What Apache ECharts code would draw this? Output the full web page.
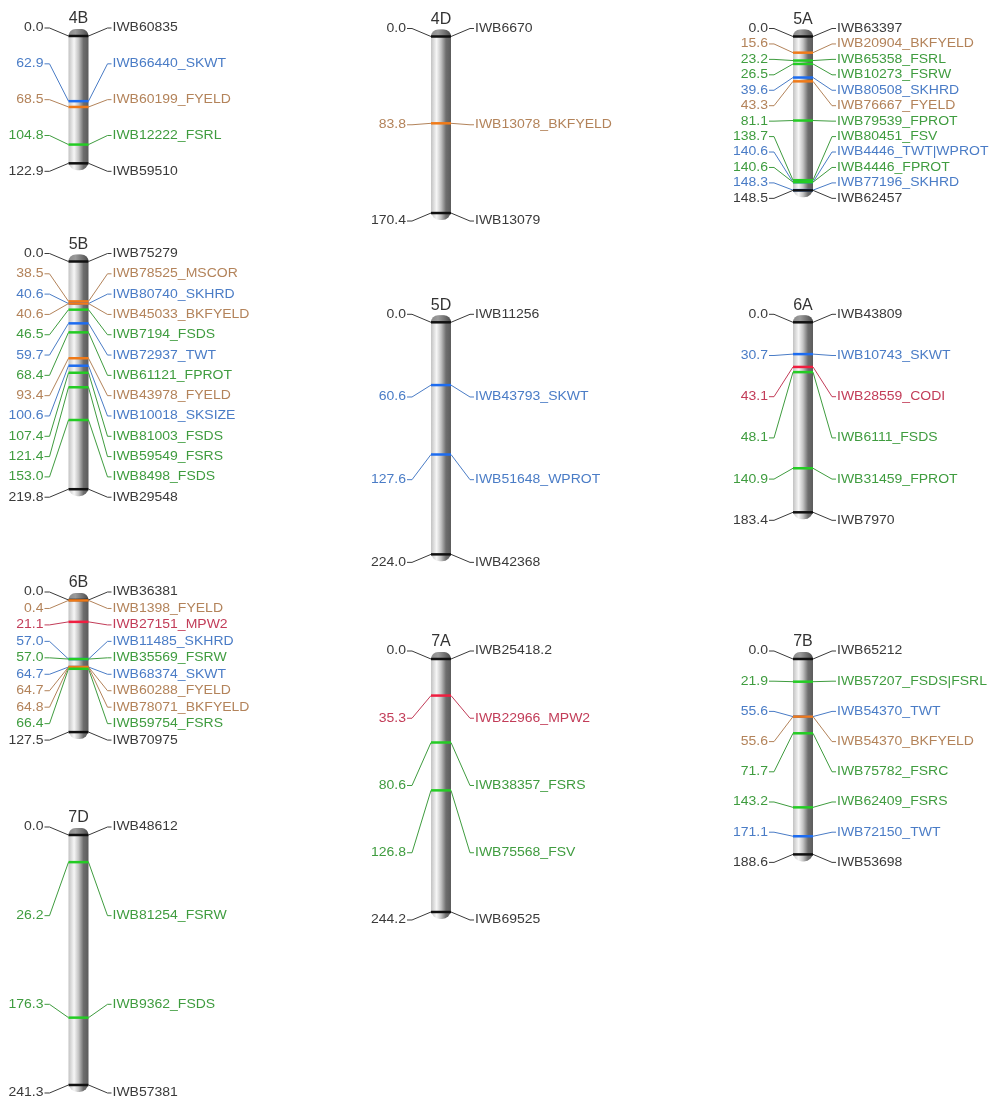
<!DOCTYPE html>
<html>
<head>
<meta charset="utf-8">
<title>Linkage map</title>
<script src="https://cdn.jsdelivr.net/npm/echarts@6/dist/echarts.min.js"></script>
<style>
html, body { margin: 0; padding: 0; background: #fff; }
#chart { width: 992px; height: 1101px; }
</style>
</head>
<body>
<div id="chart"></div>
<script>
// marker position (cM) and marker name, one list per chromosome
var chr4B = [[0.0, 'IWB60835'], [62.9, 'IWB66440_SKWT'], [68.5, 'IWB60199_FYELD'], [104.8, 'IWB12222_FSRL'], [122.9, 'IWB59510']]
var chr4D = [[0.0, 'IWB6670'], [83.8, 'IWB13078_BKFYELD'], [170.4, 'IWB13079']]
var chr5A = [[0.0, 'IWB63397'], [15.6, 'IWB20904_BKFYELD'], [23.2, 'IWB65358_FSRL'], [26.5, 'IWB10273_FSRW'],
  [39.6, 'IWB80508_SKHRD'], [43.3, 'IWB76667_FYELD'], [81.1, 'IWB79539_FPROT'], [138.7, 'IWB80451_FSV'],
  [140.6, 'IWB4446_TWT|WPROT'], [140.6, 'IWB4446_FPROT'], [148.3, 'IWB77196_SKHRD'], [148.5, 'IWB62457']]
var chr5B = [[0.0, 'IWB75279'], [38.5, 'IWB78525_MSCOR'], [40.6, 'IWB80740_SKHRD'], [40.6, 'IWB45033_BKFYELD'],
  [46.5, 'IWB7194_FSDS'], [59.7, 'IWB72937_TWT'], [68.4, 'IWB61121_FPROT'], [93.4, 'IWB43978_FYELD'],
  [100.6, 'IWB10018_SKSIZE'], [107.4, 'IWB81003_FSDS'], [121.4, 'IWB59549_FSRS'], [153.0, 'IWB8498_FSDS'],
  [219.8, 'IWB29548']]
var chr5D = [[0.0, 'IWB11256'], [60.6, 'IWB43793_SKWT'], [127.6, 'IWB51648_WPROT'], [224.0, 'IWB42368']]
var chr6A = [[0.0, 'IWB43809'], [30.7, 'IWB10743_SKWT'], [43.1, 'IWB28559_CODI'], [48.1, 'IWB6111_FSDS'],
  [140.9, 'IWB31459_FPROT'], [183.4, 'IWB7970']]
var chr6B = [[0.0, 'IWB36381'], [0.4, 'IWB1398_FYELD'], [21.1, 'IWB27151_MPW2'], [57.0, 'IWB11485_SKHRD'],
  [57.0, 'IWB35569_FSRW'], [64.7, 'IWB68374_SKWT'], [64.7, 'IWB60288_FYELD'], [64.8, 'IWB78071_BKFYELD'],
  [66.4, 'IWB59754_FSRS'], [127.5, 'IWB70975']]
var chr7A = [[0.0, 'IWB25418.2'], [35.3, 'IWB22966_MPW2'], [80.6, 'IWB38357_FSRS'], [126.8, 'IWB75568_FSV'], [244.2, 'IWB69525']]
var chr7B = [[0.0, 'IWB65212'], [21.9, 'IWB57207_FSDS|FSRL'], [55.6, 'IWB54370_TWT'], [55.6, 'IWB54370_BKFYELD'],
  [71.7, 'IWB75782_FSRC'], [143.2, 'IWB62409_FSRS'], [171.1, 'IWB72150_TWT'], [188.6, 'IWB53698']]
var chr7D = [[0.0, 'IWB48612'], [26.2, 'IWB81254_FSRW'], [176.3, 'IWB9362_FSDS'], [241.3, 'IWB57381']]

var chromosomes = ['4B', '4D', '5A', '5B', '5D', '6A', '6B', '7A', '7B', '7D']
var markerLists = { '4B': chr4B, '4D': chr4D, '5A': chr5A, '5B': chr5B, '5D': chr5D, '6A': chr6A, '6B': chr6B, '7A': chr7A, '7B': chr7B, '7D': chr7D }

// trait groups -> colours
var traitGroups = {
  blue: ['SKWT', 'SKHRD', 'TWT', 'SKSIZE', 'WPROT'],
  brown: ['FYELD', 'BKFYELD', 'MSCOR'],
  green: ['FSRL', 'FSRW', 'FSDS', 'FSRS', 'FPROT', 'FSV', 'FSRC'],
  red: ['MPW2', 'CODI']
}
var textColor = { none: '#3a3a3a', blue: '#4a7cc6', brown: '#b3835a', green: '#3f9c3f', red: '#c23c58' }
var barColor = { none: '#111111', blue: '#1d6cf0', brown: '#f07a18', green: '#24cc24', red: '#f01e40' }

// page layout: centre x and top (0 cM) y of each chromosome
var layout = {
  '4B': { cx: 78.5, top: 36 },
  '5B': { cx: 78.5, top: 261.5 },
  '6B': { cx: 78.5, top: 600 },
  '7D': { cx: 78.5, top: 835 },
  '4D': { cx: 441, top: 36.5 },
  '5D': { cx: 441, top: 322.3 },
  '7A': { cx: 441, top: 659 },
  '5A': { cx: 803, top: 36.5 },
  '6A': { cx: 803, top: 322.3 },
  '7B': { cx: 803, top: 659 }
}
var PX_PER_CM = 1.036
var HALF_W = 10
var FONT = 'Liberation Sans'

function groupOf (name) {
  var k = name.indexOf('_')
  if (k < 0) return 'none'
  var trait = name.slice(k + 1).split('|')[0]
  for (var g in traitGroups) {
    if (traitGroups[g].indexOf(trait) >= 0) return g
  }
  return 'none'
}

var chart = echarts.init(document.getElementById('chart'))

var grids = []
var xAxes = []
var yAxes = []
var series = []

chromosomes.forEach(function (chr, i) {
  var list = markerLists[chr]
  var len = list[list.length - 1][0]
  var lay = layout[chr]
  grids.push({ left: lay.cx - HALF_W, top: lay.top, width: HALF_W * 2, height: len * PX_PER_CM })
  xAxes.push({ gridIndex: i, type: 'value', min: 0, max: 1, show: false })
  yAxes.push({ gridIndex: i, type: 'value', min: 0, max: len, inverse: true, show: false })

  // chromosome body + title
  series.push({
    type: 'custom',
    xAxisIndex: i,
    yAxisIndex: i,
    z: 1,
    silent: true,
    data: [[0, 0]],
    renderItem: function (params, api) {
      var p0 = api.coord([0, 0])
      var p1 = api.coord([1, len])
      var w = p1[0] - p0[0]
      return {
        type: 'group',
        children: [{
          type: 'rect',
          shape: { x: p0[0], y: p0[1] - 7, width: w, height: p1[1] - p0[1] + 14, r: 9 },
          style: {
            fill: new echarts.graphic.LinearGradient(0, 0, 1, 0, [
              { offset: 0, color: '#c2c2c2' },
              { offset: 0.28, color: '#f6f6f6' },
              { offset: 0.5, color: '#c4c4c4' },
              { offset: 0.75, color: '#6e6e6e' },
              { offset: 1, color: '#5c5c5c' }
            ])
          }
        }, {
          type: 'rect',
          shape: { x: p0[0], y: p0[1] - 7, width: w, height: 7, r: [9, 9, 0, 0] },
          style: {
            fill: new echarts.graphic.LinearGradient(0, 0, 1, 0, [
              { offset: 0, color: '#8a8a8a' },
              { offset: 0.35, color: '#9a9a9a' },
              { offset: 1, color: '#4a4a4a' }
            ])
          }
        }, {
          type: 'text',
          x: (p0[0] + p1[0]) / 2,
          y: p0[1] - 17,
          style: {
            text: chr,
            fill: '#333',
            fontSize: 16,
            fontFamily: FONT,
            align: 'center',
            verticalAlign: 'middle'
          }
        }]
      }
    }
  })

  // markers, bars, leader lines and labels
  series.push({
    type: 'custom',
    xAxisIndex: i,
    yAxisIndex: i,
    z: 2,
    silent: true,
    data: list.map(function (m) { return [0.5, m[0]] }),
    renderItem: function (params, api) {
      var k = params.dataIndex
      var n = list.length
      var name = list[k][1]
      var pos = api.value(1)
      var g = groupOf(name)
      var top = api.coord([0, 0])[1]
      var bottom = api.coord([0, len])[1]
      var left = api.coord([0, 0])[0]
      var right = api.coord([1, 0])[0]
      var cx = (left + right) / 2
      var y = api.coord([0.5, pos])[1]
      // labels spread evenly over the chromosome span
      var ly = (top - 8) + k * (bottom - top + 16) / (n - 1)
      var tc = textColor[g]
      return {
        type: 'group',
        children: [{
          type: 'polyline',
          shape: { points: [[cx - 34, ly], [cx - 29, ly], [left, y]] },
          style: { stroke: tc, lineWidth: 1, fill: null }
        }, {
          type: 'polyline',
          shape: { points: [[right, y], [cx + 29, ly], [cx + 33, ly]] },
          style: { stroke: tc, lineWidth: 1, fill: null }
        }, {
          type: 'line',
          shape: { x1: left, y1: y, x2: right, y2: y },
          style: { stroke: barColor[g], lineWidth: 2.5 }
        }, {
          type: 'text',
          x: cx - 35,
          y: ly,
          scaleX: 1.12,
          style: {
            text: pos.toFixed(1),
            fill: tc,
            fontSize: 12.5,
            fontFamily: FONT,
            align: 'right',
            verticalAlign: 'middle'
          }
        }, {
          type: 'text',
          x: cx + 34,
          y: ly,
          scaleX: 1.12,
          style: {
            text: name,
            fill: tc,
            fontSize: 12.5,
            fontFamily: FONT,
            align: 'left',
            verticalAlign: 'middle'
          }
        }]
      }
    }
  })
})

chart.setOption({
  backgroundColor: '#ffffff',
  animation: false,
  grid: grids,
  xAxis: xAxes,
  yAxis: yAxes,
  series: series
})
</script>
</body>
</html>
